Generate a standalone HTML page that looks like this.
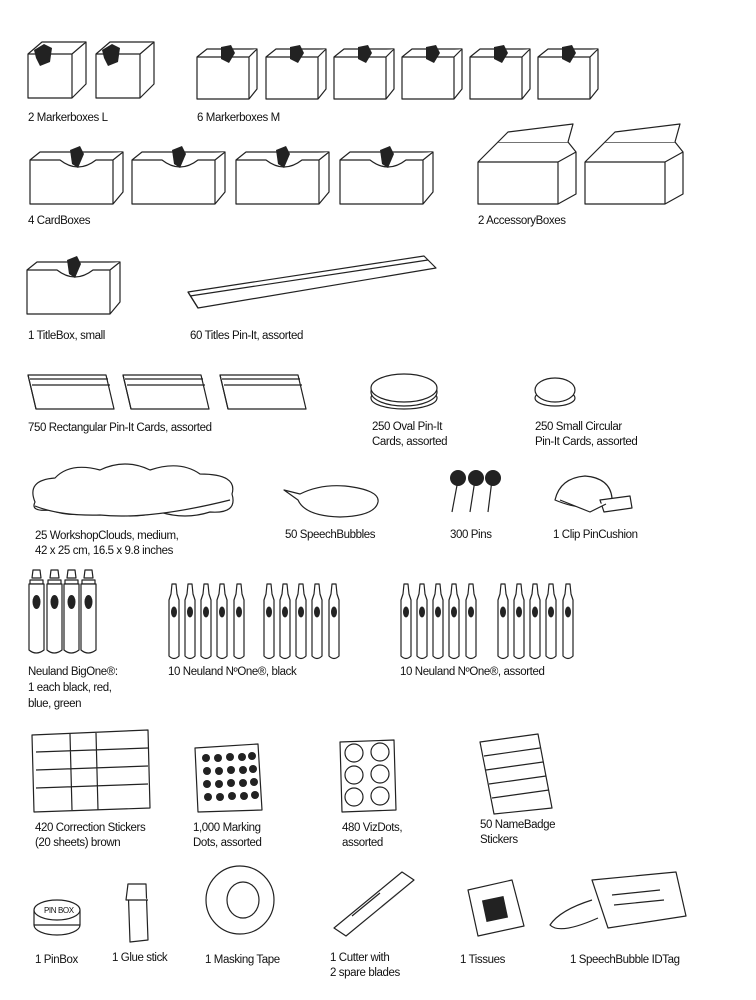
<!DOCTYPE html>
<html><head><meta charset="utf-8"><style>
html,body{margin:0;padding:0;background:#fff;}
svg{display:block}
text{font-family:"Liberation Sans",sans-serif;font-size:11.5px;letter-spacing:-0.4px;fill:#111}
.s{fill:#fff;stroke:#222;stroke-width:1.2;stroke-linejoin:round}
.k{fill:#222}
</style></head><body>
<svg width="756" height="1000" viewBox="0 0 756 1000" xmlns="http://www.w3.org/2000/svg">
<defs>
<g id="boxL">
 <path class="s" d="M0 14 L14 2 L58 2 L58 44 L44 58 L0 58 Z"/>
 <path class="s" d="M0 14 L44 14 L58 2 M44 14 L44 58"/>
 <path class="k" d="M6 10 L16 4 L24 8 L22 22 L12 26 L8 18 Z"/>
</g>
<g id="boxM">
 <path class="s" d="M0 10 L10 2 L60 2 L60 42 L52 52 L0 52 Z"/>
 <path class="s" d="M0 10 L52 10 L60 2 M52 10 L52 52"/>
 <path class="k" d="M24 0 L34 -2 L38 6 L32 16 L24 12 Z"/>
</g>
<g id="card">
 <path class="s" d="M0 14 L10 6 L93 6 L93 46 L83 58 L0 58 Z"/>
 <path class="s" d="M0 14 L30 14 Q48 28 66 14 L83 14 L93 6 M83 14 L83 58"/>
 <path class="k" d="M40 4 L50 0 L54 8 L48 22 L42 18 Z"/>
</g>
<g id="acc">
 <path class="s" d="M0 30 L20 10 L90 10 L98 20 L98 62 L80 72 L0 72 Z"/>
 <path class="s" d="M0 30 L80 30 L98 20 M80 30 L80 72 M20 10 L30 0 L95 -8 L90 10"/>
</g>
<g id="bm">
 <path class="s" d="M5 0 L12 0 L13 8 L4 8 Z M2 10 L15 10 L15 14 L2 14 Z"/>
 <path class="s" d="M1 14 L16 14 L16 80 Q8 86 1 80 Z"/>
 <ellipse class="k" cx="8.5" cy="32" rx="4" ry="7"/>
</g>
<g id="sm">
 <path class="s" d="M4 0 L8 0 L9 10 L11 16 L11 72 Q6 77 1 72 L1 16 L3 10 Z"/>
 <ellipse class="k" cx="6" cy="28" rx="3" ry="5.5"/>
</g>
<g id="pc">
 <path class="s" d="M0 10 L78 10 L86 44 L8 44 Z"/>
 <path class="s" d="M0 10 L8 44 M2 14 L80 14 M4 20 L82 20"/>
</g>
</defs>

<!-- Row 1 -->
<use href="#boxL" x="28" y="40"/><use href="#boxL" x="96" y="40"/>
<text x="28" y="121">2 Markerboxes L</text>
<use href="#boxM" x="197" y="47"/><use href="#boxM" x="266" y="47"/><use href="#boxM" x="334" y="47"/>
<use href="#boxM" x="402" y="47"/><use href="#boxM" x="470" y="47"/><use href="#boxM" x="538" y="47"/>
<text x="197" y="121">6 Markerboxes M</text>

<!-- Row 2 -->
<use href="#card" x="30" y="146"/><use href="#card" x="132" y="146"/><use href="#card" x="236" y="146"/><use href="#card" x="340" y="146"/>
<text x="28" y="224">4 CardBoxes</text>
<use href="#acc" x="478" y="132"/><use href="#acc" x="585" y="132"/>
<text x="478" y="224">2 AccessoryBoxes</text>

<!-- Row 3 -->
<use href="#card" x="30" y="256" transform="translate(-3,0)"/>
<text x="28" y="339">1 TitleBox, small</text>
<path class="s" d="M188 292 L424 256 L436 268 L198 308 Z"/>
<path class="s" d="M188 292 L198 308 M190 296 L428 260"/>
<text x="190" y="339">60  Titles Pin-It, assorted</text>

<!-- Row 4 -->
<use href="#pc" x="28" y="365"/><use href="#pc" x="123" y="365"/><use href="#pc" x="220" y="365"/>
<text x="28" y="431">750 Rectangular Pin-It Cards, assorted</text>
<ellipse class="s" cx="404" cy="398" rx="33" ry="11"/><ellipse class="s" cx="404" cy="392" rx="33" ry="14"/><ellipse class="s" cx="404" cy="388" rx="33" ry="14"/>
<text x="372" y="430">250 Oval Pin-It</text><text x="372" y="445">Cards, assorted</text>
<ellipse class="s" cx="555" cy="398" rx="20" ry="8"/><ellipse class="s" cx="555" cy="390" rx="20" ry="12"/>
<text x="535" y="430">250 Small Circular</text><text x="535" y="445">Pin-It Cards, assorted</text>

<!-- Row 5 -->
<path class="s" d="M35 502 Q26 480 55 478 Q70 462 100 470 Q125 458 150 470 Q180 460 200 474 Q238 474 232 494 Q238 514 210 512 Q185 520 160 512 Q130 520 100 512 Q70 518 50 510 Q30 512 35 502 Z"/>
<path class="s" d="M35 506 Q60 516 100 515 Q150 520 230 500"/>
<text x="35" y="539">25 WorkshopClouds, medium,</text><text x="35" y="554">42 x 25 cm, 16.5 x 9.8 inches</text>
<path class="s" d="M298 500 L284 490 L300 494 Q320 484 345 486 Q380 490 378 502 Q375 516 340 517 Q305 516 298 500 Z"/>
<text x="285" y="538">50 SpeechBubbles</text>
<g class="s">
 <line x1="458" y1="480" x2="452" y2="512"/><line x1="475" y1="480" x2="470" y2="512"/><line x1="492" y1="480" x2="488" y2="512"/>
</g>
<circle class="k" cx="458" cy="478" r="8"/><circle class="k" cx="476" cy="478" r="8"/><circle class="k" cx="493" cy="478" r="8"/>
<text x="450" y="538">300 Pins</text>
<path class="s" d="M555 500 Q560 478 585 476 Q610 478 612 498 Q590 515 555 500 Z"/>
<path class="s" d="M600 500 L630 496 L632 508 L604 512 Z"/>
<path class="s" d="M560 500 L590 512 L606 504"/>
<text x="553" y="538">1 Clip PinCushion</text>

<!-- Row 6 -->
<use href="#bm" x="28" y="570"/><use href="#bm" x="46" y="570"/><use href="#bm" x="63" y="570"/><use href="#bm" x="80" y="570"/>
<text x="28" y="675">Neuland BigOne®:</text><text x="28" y="691">1 each black, red,</text><text x="28" y="707">blue, green</text>
<use href="#sm" x="168" y="584"/><use href="#sm" x="184" y="584"/><use href="#sm" x="200" y="584"/><use href="#sm" x="216" y="584"/><use href="#sm" x="233" y="584"/>
<use href="#sm" x="263" y="584"/><use href="#sm" x="279" y="584"/><use href="#sm" x="295" y="584"/><use href="#sm" x="311" y="584"/><use href="#sm" x="328" y="584"/>
<text x="168" y="675">10 Neuland NºOne®, black</text>
<use href="#sm" x="400" y="584"/><use href="#sm" x="416" y="584"/><use href="#sm" x="432" y="584"/><use href="#sm" x="448" y="584"/><use href="#sm" x="465" y="584"/>
<use href="#sm" x="497" y="584"/><use href="#sm" x="513" y="584"/><use href="#sm" x="529" y="584"/><use href="#sm" x="545" y="584"/><use href="#sm" x="562" y="584"/>
<text x="400" y="675">10 Neuland NºOne®, assorted</text>

<!-- Row 7 -->
<path class="s" d="M32 735 L148 730 L150 808 L34 812 Z"/>
<path class="s" d="M36 752 L148 748 M36 770 L148 766 M36 788 L148 784 M70 734 L72 810 M96 733 L98 810"/>
<text x="35" y="831">420 Correction Stickers</text><text x="35" y="846">(20 sheets) brown</text>
<path class="s" d="M195 748 L258 744 L262 810 L198 812 Z"/>
<g class="k">
 <circle cx="206" cy="758" r="4"/><circle cx="218" cy="758" r="4"/><circle cx="230" cy="757" r="4"/><circle cx="242" cy="757" r="4"/><circle cx="252" cy="756" r="4"/>
 <circle cx="207" cy="771" r="4"/><circle cx="219" cy="771" r="4"/><circle cx="231" cy="770" r="4"/><circle cx="243" cy="770" r="4"/><circle cx="253" cy="769" r="4"/>
 <circle cx="207" cy="784" r="4"/><circle cx="219" cy="784" r="4"/><circle cx="231" cy="783" r="4"/><circle cx="243" cy="783" r="4"/><circle cx="254" cy="782" r="4"/>
 <circle cx="208" cy="797" r="4"/><circle cx="220" cy="797" r="4"/><circle cx="232" cy="796" r="4"/><circle cx="244" cy="796" r="4"/><circle cx="255" cy="795" r="4"/>
</g>
<text x="193" y="831">1,000 Marking</text><text x="193" y="846">Dots, assorted</text>
<path class="s" d="M340 742 L394 740 L396 810 L342 812 Z"/>
<g class="s"><circle cx="354" cy="753" r="9"/><circle cx="380" cy="752" r="9"/><circle cx="354" cy="775" r="9"/><circle cx="380" cy="774" r="9"/><circle cx="354" cy="797" r="9"/><circle cx="380" cy="796" r="9"/></g>
<text x="342" y="831">480 VizDots,</text><text x="342" y="846">assorted</text>
<path class="s" d="M480 742 L538 734 L552 808 L494 814 Z"/>
<path class="s" d="M484 756 L540 748 M486 770 L543 762 M489 784 L546 776 M492 798 L549 790"/>
<text x="480" y="828">50 NameBadge</text><text x="480" y="843">Stickers</text>

<!-- Row 8 -->
<ellipse class="s" cx="57" cy="925" rx="23" ry="10"/><rect class="s" x="34" y="910" width="46" height="15"/><ellipse class="s" cx="57" cy="910" rx="23" ry="10"/>
<text x="44" y="913" style="font-size:8px">PIN BOX</text>
<text x="35" y="963">1 PinBox</text>
<path class="s" d="M128 884 L146 884 L148 940 L130 942 Z"/><path class="s" d="M128 884 L126 900 L148 900"/>
<text x="112" y="961">1 Glue stick</text>
<ellipse class="s" cx="240" cy="900" rx="34" ry="34"/><ellipse class="s" cx="243" cy="900" rx="16" ry="18"/>
<text x="205" y="963">1 Masking Tape</text>
<path class="s" d="M334 928 L402 872 L414 880 L346 936 Z"/><path class="s" d="M352 916 L380 893"/>
<text x="330" y="961">1 Cutter with</text><text x="330" y="976">2 spare blades</text>
<path class="s" d="M468 890 L512 880 L524 926 L478 936 Z"/><rect class="k" x="484" y="898" width="22" height="22" transform="rotate(-12 495 909)"/>
<text x="460" y="963">1 Tissues</text>
<path class="s" d="M592 880 L676 872 L686 916 L608 928 Z"/><path class="s" d="M592 900 Q560 910 550 925 Q560 935 598 918"/>
<path class="s" d="M612 895 L660 890 M614 905 L664 900"/>
<text x="570" y="963">1 SpeechBubble IDTag</text>
</svg>
</body></html>
